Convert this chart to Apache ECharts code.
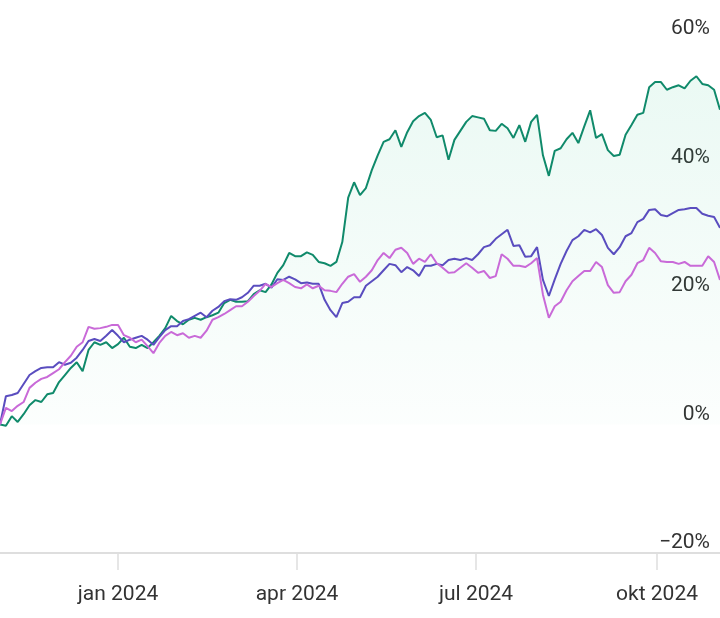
<!DOCTYPE html>
<html>
<head>
<meta charset="utf-8">
<script src="https://cdn.jsdelivr.net/npm/echarts@6/dist/echarts.min.js"></script>
<style>
html,body{margin:0;padding:0;background:#fff;}
#chart{width:720px;height:618px;}
</style>
</head>
<body>
<div id="chart"></div>
<script>
// x: one point every 3 days from the start date
const startDate = [2023, 10, 2];
const stepDays = 3;
const monthNames = ['jan','feb','mar','apr','mai','jun','jul','aug','sep','okt','nov','des'];
const tickDates = [[2024,0,1],[2024,3,1],[2024,6,1],[2024,9,1]];
const yTicks = { min: -20, max: 60, step: 20 };

const greenValues = [0,-0.2,1.3,0.4,1.6,3.0,3.8,3.5,4.7,4.9,
 6.6,7.7,8.8,9.7,8.3,11.6,12.8,12.4,12.8,11.9,
 12.5,13.5,12.1,11.9,12.4,11.9,12.8,13.8,15.0,16.9,
 16.1,15.6,16.3,16.6,16.3,16.7,17.0,17.4,18.9,19.4,
 19.1,19.1,19.2,20.3,20.9,20.6,21.8,23.6,24.8,26.7,
 26.2,26.2,26.8,26.4,25.3,25.1,24.7,25.3,28.4,35.3,
 37.7,35.7,36.8,39.6,41.9,44.0,44.4,45.8,43.2,45.5,
 47.2,48.0,48.5,47.4,44.7,45.0,41.2,44.3,45.7,47.1,
 48.0,47.8,47.6,45.8,45.7,46.8,46.1,44.6,46.6,44.0,
 47.1,48.2,41.9,38.7,42.6,43.0,44.4,45.4,43.8,46.4,
 48.9,44.6,45.2,42.7,41.8,42.0,45.1,46.6,48.2,48.5,
 52.5,53.3,53.3,52.1,52.5,52.8,52.3,53.5,54.2,53.0,
 52.8,52.1,49.0];

const purpleValues = [0,4.4,4.6,4.9,6.3,7.7,8.3,8.8,8.9,8.9,
 9.7,9.3,9.6,10.4,11.6,13.0,13.3,13.0,13.8,14.7,
 13.8,12.8,13.2,13.5,13.8,13.2,12.4,13.6,14.7,15.3,
 15.3,16.1,16.4,16.9,17.4,16.7,17.7,18.3,19.2,19.5,
 19.4,19.8,20.5,21.6,21.6,21.9,21.3,22.6,22.5,23.0,
 22.6,22.0,22.1,21.9,21.9,19.4,17.8,16.7,18.9,19.1,
 19.8,19.8,21.6,22.3,23.0,24.0,25.0,24.8,23.7,24.5,
 24.0,23.1,24.7,24.7,25.0,24.8,25.6,25.8,25.6,25.9,
 25.6,26.5,27.6,27.9,28.9,29.6,30.3,27.8,27.9,26.1,
 26.2,27.6,22.5,20.0,22.6,25.0,27.0,28.7,29.3,30.3,
 29.9,30.4,29.5,27.5,26.5,27.6,29.3,29.8,31.5,32.0,
 33.4,33.5,32.6,32.4,32.9,33.4,33.5,33.7,33.7,32.8,
 32.5,32.3,30.6];

const pinkValues = [0,2.6,2.1,2.9,3.5,5.7,6.5,7.1,7.4,8.0,
 8.6,9.7,10.7,12.1,12.8,15.2,14.9,15.0,15.2,15.5,
 15.5,13.9,13.5,12.8,13.2,12.2,11.1,12.7,13.8,14.4,
 13.9,14.2,13.5,13.8,13.5,14.6,16.3,16.7,17.2,17.8,
 18.4,18.4,19.1,20.0,20.8,21.9,21.4,22.0,22.5,22.0,
 21.4,21.2,21.8,21.2,21.6,20.9,20.8,20.6,21.9,23.0,
 23.4,22.2,23.0,24.0,25.6,26.7,25.9,27.2,27.5,26.7,
 25.0,25.8,25.3,26.5,25.1,24.4,23.6,23.7,24.4,25.1,
 24.4,23.6,23.9,22.8,23.1,26.5,25.8,24.7,24.7,24.5,
 25.1,25.9,20.2,16.6,18.4,19.1,20.9,22.3,23.1,23.9,
 23.9,25.3,24.5,21.7,20.5,20.6,22.3,23.3,25.1,25.6,
 27.5,26.7,25.4,25.3,25.3,25.0,25.3,24.7,24.7,24.7,
 26.2,25.3,22.5];

const DAY = 86400000;
const t0 = Date.UTC(startDate[0], startDate[1], startDate[2]);
const dates = greenValues.map((_, i) => t0 + i * stepDays * DAY);
const pair = arr => arr.map((v, i) => [dates[i], v]);
const tickTimes = tickDates.map(d => Date.UTC(d[0], d[1], d[2]));

const chart = echarts.init(document.getElementById('chart'), null, { renderer: 'canvas' });
const FONT = 'Roboto, "Noto Sans", sans-serif';

chart.setOption({
  animation: false,
  backgroundColor: '#ffffff',
  grid: { left: 0, right: 0, top: 39, bottom: 65, containLabel: false },
  xAxis: {
    type: 'value',
    min: dates[0],
    max: dates[dates.length - 1],
    axisLine: { show: true, onZero: false, lineStyle: { color: '#dedede', width: 2 } },
    axisTick: { show: true, length: 17, lineStyle: { color: '#dedede', width: 1.5 }, customValues: tickTimes },
    axisLabel: {
      customValues: tickTimes,
      margin: 31,
      fontSize: 21,
      fontFamily: FONT,
      color: '#333',
      formatter: v => { const d = new Date(v); return monthNames[d.getUTCMonth()] + ' ' + d.getUTCFullYear(); }
    },
    splitLine: { show: false }
  },
  yAxis: {
    type: 'value',
    position: 'right',
    min: yTicks.min,
    max: yTicks.max,
    interval: yTicks.step,
    axisLine: { show: false },
    axisTick: { show: false },
    splitLine: { show: false },
    axisLabel: {
      inside: true,
      margin: 10,
      fontSize: 21,
      fontFamily: FONT,
      color: '#333',
      verticalAlign: 'bottom',
      lineHeight: 20,
      padding: [0, 0, 0, 0],
      formatter: v => (v < 0 ? '\u2212' + Math.abs(v) : v) + '%'
    }
  },
  series: [
    {
      name: 'green', type: 'line', data: pair(greenValues), showSymbol: false, symbol: 'none',
      lineStyle: { color: '#108a6b', width: 2 },
      itemStyle: { color: '#108a6b' },
      areaStyle: {
        color: new echarts.graphic.LinearGradient(0, 0, 0, 1, [
          { offset: 0, color: 'rgba(30,190,130,0.13)' },
          { offset: 1, color: 'rgba(30,190,130,0.02)' }
        ])
      },
      z: 2
    },
    {
      name: 'purple', type: 'line', data: pair(purpleValues), showSymbol: false, symbol: 'none',
      lineStyle: { color: '#5a4dbf', width: 2 },
      itemStyle: { color: '#5a4dbf' },
      z: 3
    },
    {
      name: 'pink', type: 'line', data: pair(pinkValues), showSymbol: false, symbol: 'none',
      lineStyle: { color: '#c96ad8', width: 2 },
      itemStyle: { color: '#c96ad8' },
      z: 4
    }
  ]
});
</script>
</body>
</html>
